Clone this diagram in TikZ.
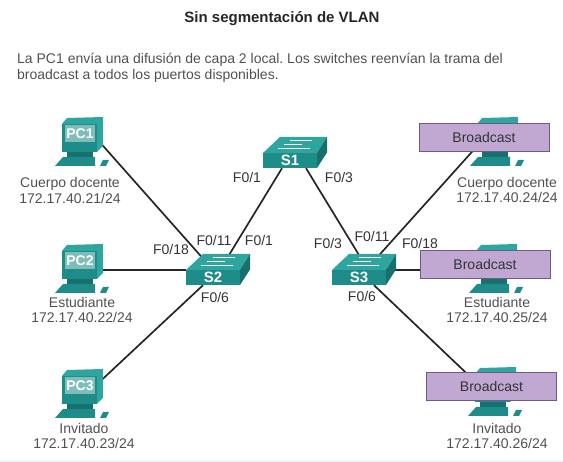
\documentclass[tikz,border=0pt]{standalone}
\usepackage{xcolor}
\usepackage{fontspec}
\setmainfont{Liberation Sans}
\usetikzlibrary{backgrounds}
\definecolor{tealfront}{HTML}{1E8C88}
\definecolor{tealdark}{HTML}{17706E}
\definecolor{teallight}{HTML}{2FA5A0}
\definecolor{tealscreen}{HTML}{7FBDBA}
\definecolor{inktext}{HTML}{505050}
\definecolor{boxfill}{HTML}{C0A8D3}
\definecolor{boxline}{HTML}{6E5A88}
\tikzset{
    pics/pcicon/.style={code={
        \fill[teallight] (-18,-10) -- (-13,-16) -- (23,-17) -- (23,12) -- (17,18) -- (-18,18) -- cycle;
        \fill[tealfront] (-18,-10) -- (17,-10) -- (17,18) -- (-18,18) -- cycle;
        \fill[tealdark] (-13,18) rectangle (13,24);
        \fill[tealfront] (-25,32) -- (-17,23) -- (15,23) -- (15,32) -- cycle;
        \fill[tealfront] (20,32) -- (23,26) -- (29,26) -- (26,32) -- cycle;
        \node[pcscreen] (-n) at (0,0) {#1};
    }},
    pics/swicon/.style={code={
        \fill[teallight] (-27,-7.5) -- (-10,-23.5) -- (37,-23.5) -- (27,-7.5) -- cycle;
        \fill[tealdark] (27,-7.5) -- (37,-23.5) -- (37,-8) -- (27,7.5) -- cycle;
        \node[swfront] (-n) at (0,0) {#1};
        \draw[white, line width=1pt] (-12,-12) -- (6,-12) (-6,-16) -- (12,-16) (0,-20) -- (22,-20) (2,-12) -- (20,-12);
    }},
}
\begin{document}
\frenchspacing
\begin{tikzpicture}[
    x=1pt, y=-1pt,
    font=\fontsize{14}{15.7}\selectfont,
    pcscreen/.style={fill=tealscreen, minimum width=30pt, minimum height=17pt, inner sep=0pt,
        text=white, font=\fontsize{14}{14}\selectfont\bfseries},
    swfront/.style={fill=tealfront, minimum width=54pt, minimum height=15pt, inner sep=0pt,
        text=white, font=\fontsize{15}{15}\selectfont\bfseries},
    hostlabel/.style={align=center, text=inktext, inner sep=0pt},
    portlabel/.style={text=black!80, inner sep=0pt},
    broadcast/.style={draw=boxline, fill=boxfill, minimum width=130pt, minimum height=27.5pt,
        inner sep=0pt, text=black!80},
    link/.style={line width=1.7pt, draw=black!85},
]
    \useasboundingbox (0,0) rectangle (563,462);
    \fill[cyan!8] (0,460) rectangle (563,462);

    \node[font=\fontsize{15}{18}\selectfont\bfseries, text=black!85] (title) at (282,19) {Sin segmentación de VLAN};
    \node[anchor=north west, align=left, text=inktext, inner sep=0pt] (intro) at (17,53)
        {La PC1 envía una difusión de capa 2 local. Los switches reenvían la trama del\\
         broadcast a todos los puertos disponibles.};

    \pic (pc1) at (80,134) {pcicon=PC1};
    \pic (pc2) at (80,261) {pcicon=PC2};
    \pic (pc3) at (80,386) {pcicon=PC3};
    \pic (pc4) at (495,134) {pcicon=};
    \pic (pc5) at (494,261) {pcicon=};
    \pic (pc6) at (493,384) {pcicon=};
    \pic (s1) at (290,160.5) {swicon=S1};
    \pic (s2) at (213,277.5) {swicon=S2};
    \pic (s3) at (359,277.5) {swicon=S3};

    \begin{scope}[on background layer]
        \draw[link] ([yshift=-3pt]pc1-n.east) -- (s2-n.north);
        \draw[link] (s2-n.north west) -- (s2-n.north west -| pc2-n.east);
        \draw[link] (pc3-n.east) -- ([xshift=-10pt]s2-n.south);
        \draw[link] ([xshift=-8pt]s1-n.south) -- ([xshift=7pt]s2-n.north);
        \draw[link] ([xshift=16pt]s1-n.south) -- ([xshift=9pt]s3-n.north);
        \draw[link] ([xshift=7pt]s3-n.north) -- ([xshift=-7pt]pc4-n.center);
        \draw[link] (s3-n.north east) -- (s3-n.north east -| pc5-n.center);
        \draw[link] ([xshift=15pt]s3-n.south) -- (pc6-n.west);
    \end{scope}

    \node[broadcast] (bc1) at (484,137) {Broadcast};
    \node[broadcast] (bc2) at (485,264) {Broadcast};
    \node[broadcast] (bc3) at (491.5,386) {Broadcast};

    \node[hostlabel] (host1) at (70,190.5) {Cuerpo docente\\172.17.40.21/24};
    \node[hostlabel] (host2) at (82,310) {Estudiante\\172.17.40.22/24};
    \node[hostlabel] (host3) at (84,436) {Invitado\\172.17.40.23/24};
    \node[hostlabel] (host4) at (507,190) {Cuerpo docente\\172.17.40.24/24};
    \node[hostlabel] (host5) at (497,310) {Estudiante\\172.17.40.25/24};
    \node[hostlabel] (host6) at (497,436) {Invitado\\172.17.40.26/24};

    \node[portlabel] at (247,177) {F0/1};
    \node[portlabel] at (339,177) {F0/3};
    \node[portlabel] at (214,240) {F0/11};
    \node[portlabel] at (259,240) {F0/1};
    \node[portlabel] at (171,249) {F0/18};
    \node[portlabel] at (215,297) {F0/6};
    \node[portlabel] at (328,243) {F0/3};
    \node[portlabel] at (372,236) {F0/11};
    \node[portlabel] at (420,243) {F0/18};
    \node[portlabel] at (362,296) {F0/6};
\end{tikzpicture}
\end{document}
